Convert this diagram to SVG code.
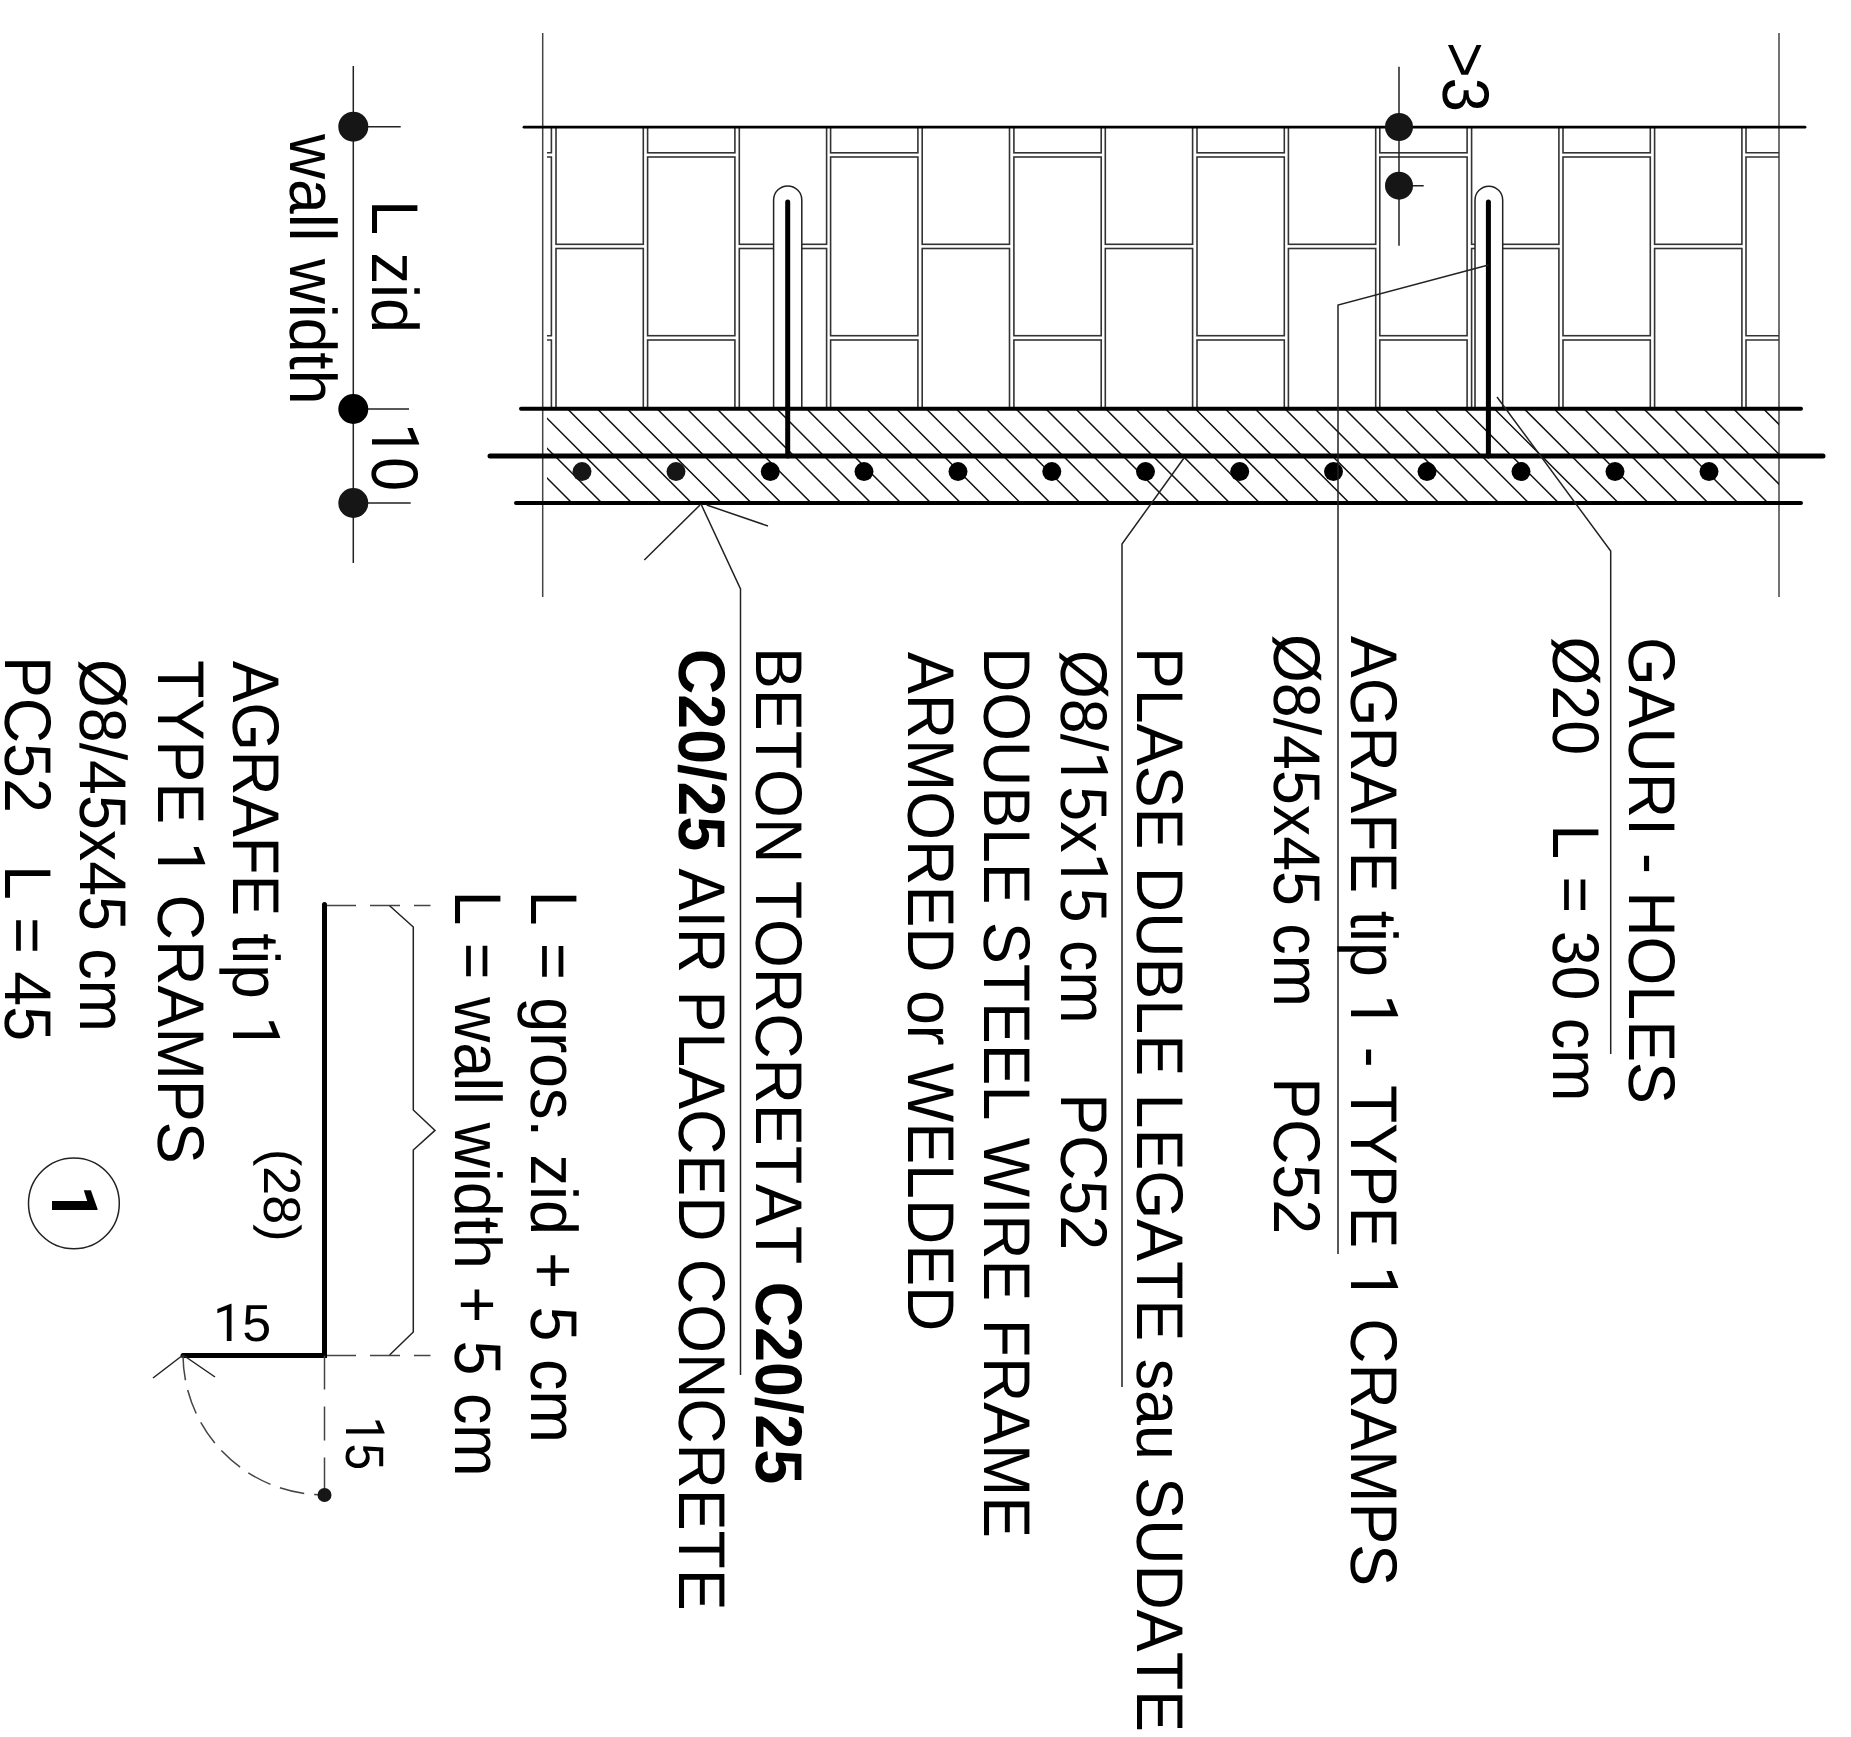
<svg xmlns="http://www.w3.org/2000/svg" width="1851" height="1737" viewBox="0 0 1851 1737">
<style>
text{font-family:"Liberation Sans",Arial,sans-serif;font-size:66px;fill:#000;font-kerning:none;text-rendering:geometricPrecision}
.s{font-size:52px}
.b{font-weight:bold}
.r{font-family:Roboto,"Liberation Sans",sans-serif}
.th{fill:none;stroke:#222;stroke-width:1.5}
.br{fill:none;stroke:#333;stroke-width:1.6}
.h{fill:none;stroke:#111;stroke-width:1.5}
.k{fill:none;stroke:#000;stroke-linecap:round}
.d{fill:#161616}
.dash{fill:none;stroke:#444;stroke-width:1.5}
</style>
<defs>
<g id="ba" class="br"><rect x="0" y="127" width="87.3" height="25.8"/><rect x="0" y="157" width="87.3" height="178.7"/><rect x="0" y="340" width="87.3" height="68.8"/></g>
<g id="bb" class="br"><rect x="0" y="127" width="87.3" height="117.3"/><rect x="0" y="248.5" width="87.3" height="160.3"/></g>
<clipPath id="c1"><rect x="547" y="409" width="1232" height="47"/></clipPath>
<clipPath id="c2"><rect x="547" y="456" width="1232" height="47"/></clipPath>
</defs>
<g id="axes" class="th" style="stroke:#444"><path d="M542.7 33V597M1779 33V597"/></g>
<g id="bricks">
<path class="br" d="M551.4 127V152.8H547M547 157H551.4V335.7H547M547 340H551.4V408.8"/>
<use href="#bb" x="556"/><use href="#ba" x="647.6"/><use href="#bb" x="739.3"/><use href="#ba" x="830.6"/><use href="#bb" x="922.2"/><use href="#ba" x="1013.9"/><use href="#bb" x="1105.3"/><use href="#ba" x="1197"/><use href="#bb" x="1288.4"/><use href="#ba" x="1379.8"/><use href="#bb" x="1471.6"/><use href="#ba" x="1563"/><use href="#bb" x="1654.6"/>
<path class="br" d="M1779 127H1746V152.8H1779M1779 157H1746V335.7H1779M1779 340H1746V408.8"/>
</g>
<g id="hatch">
<path class="h" clip-path="url(#c1)" d="M507.8 409l47 47m-17.1-47l47 47m-17.1-47l47 47m-17.1-47l47 47m-17.1-47l47 47m-17.1-47l47 47m-17.1-47l47 47m-17.1-47l47 47m-17.1-47l47 47m-17.1-47l47 47m-17.1-47l47 47m-17.1-47l47 47m-17.1-47l47 47m-17.1-47l47 47m-17.1-47l47 47m-17.1-47l47 47m-17.1-47l47 47m-17.1-47l47 47m-17.1-47l47 47m-17.1-47l47 47m-17.1-47l47 47m-17.1-47l47 47m-17.1-47l47 47m-17.1-47l47 47m-17.1-47l47 47m-17.1-47l47 47m-17.1-47l47 47m-17.1-47l47 47m-17.1-47l47 47m-17.1-47l47 47m-17.1-47l47 47m-17.1-47l47 47m-17.1-47l47 47m-17.1-47l47 47m-17.1-47l47 47m-17.1-47l47 47m-17.1-47l47 47m-17.1-47l47 47m-17.1-47l47 47m-17.1-47l47 47m-17.1-47l47 47m-17.1-47l47 47m-17.1-47l47 47m-17.1-47l47 47"/>
<path class="h" clip-path="url(#c2)" d="M525 456l47 47m-17.1-47l47 47m-17.1-47l47 47m-17.1-47l47 47m-17.1-47l47 47m-17.1-47l47 47m-17.1-47l47 47m-17.1-47l47 47m-17.1-47l47 47m-17.1-47l47 47m-17.1-47l47 47m-17.1-47l47 47m-17.1-47l47 47m-17.1-47l47 47m-17.1-47l47 47m-17.1-47l47 47m-17.1-47l47 47m-17.1-47l47 47m-17.1-47l47 47m-17.1-47l47 47m-17.1-47l47 47m-17.1-47l47 47m-17.1-47l47 47m-17.1-47l47 47m-17.1-47l47 47m-17.1-47l47 47m-17.1-47l47 47m-17.1-47l47 47m-17.1-47l47 47m-17.1-47l47 47m-17.1-47l47 47m-17.1-47l47 47m-17.1-47l47 47m-17.1-47l47 47m-17.1-47l47 47m-17.1-47l47 47m-17.1-47l47 47m-17.1-47l47 47m-17.1-47l47 47m-17.1-47l47 47m-17.1-47l47 47m-17.1-47l47 47m-17.1-47l47 47m-17.1-47l47 47"/>
</g>
<g id="anchors">
<path d="M773.6 408.8V200A14.1 14.1 0 0 1 801.8 200V408.8" fill="#fff" stroke="#222" stroke-width="1.5"/>
<path d="M1475 408.8V200A13.85 13.85 0 0 1 1502.7 200V408.8" fill="#fff" stroke="#222" stroke-width="1.5"/>
<path class="k" stroke-width="5" d="M787.7 202V456M1488.4 202V456"/>
</g>
<g id="slab" class="k">
<path stroke-width="2.8" d="M524 127.2H1805"/>
<path stroke-width="4" d="M521 408.8H1801M516 503H1801"/>
<path stroke-width="5" d="M490 456H1823"/>
</g>
<g id="bars" class="d">
<circle cx="582" cy="471.6" r="9.5"/><circle cx="676" cy="471.6" r="9.5"/>
<g fill="#000"><circle cx="770.3" cy="471.6" r="9.5"/><circle cx="864" cy="471.6" r="9.5"/><circle cx="958" cy="471.6" r="9.5"/><circle cx="1051.8" cy="471.6" r="9.5"/><circle cx="1145.5" cy="471.6" r="9.5"/><circle cx="1239.7" cy="471.6" r="9.5"/><circle cx="1333.5" cy="471.6" r="9.5"/><circle cx="1427" cy="471.6" r="9.5"/><circle cx="1521" cy="471.6" r="9.5"/><circle cx="1615" cy="471.6" r="9.5"/><circle cx="1709" cy="471.6" r="9.5"/></g>
</g>
<g id="connectors" class="th">
<path d="M701 504L740.5 589V1375M644.3 560L700 505M706.7 505L768 526"/>
<path d="M1184 458L1122 544V1387"/>
<path d="M1488.4 265L1338 305V1254"/>
<path d="M1497 397L1610.7 551V1054"/>
</g>
<g id="dim-3">
<path class="th" d="M1399 66.7V245.8M1399 185.7H1423.7"/>
<circle class="d" cx="1399" cy="127" r="14"/><circle class="d" cx="1399" cy="185.7" r="14"/>
<text transform="translate(1443 42) rotate(90) scale(.93,1)">&gt;3</text>
</g>
<g id="dim-wall">
<path class="th" d="M353.3 66V563M353.3 126.7H400.7M353.3 409H409M353.3 503H410.7"/>
<circle class="d" cx="353.3" cy="126.7" r="15"/><circle cx="353.3" cy="409" r="15"/><circle class="d" cx="353.3" cy="503" r="15"/>
<text transform="translate(371.7 200) rotate(90) scale(.955,1)">L zid</text>
<text transform="translate(371.7 423) rotate(90) scale(.92,1)"><tspan class="r">1</tspan>0</text>
<text transform="translate(290 134) rotate(90) scale(.945,1)">wall width</text>
</g>
<g id="labels">
<text transform="translate(1629 637) rotate(90) scale(.95,1)">GAURI - HOLES</text>
<text transform="translate(1553 636.5) rotate(90) scale(.95,1)" xml:space="preserve">Ø20   <tspan x="197.7">L = 30 cm</tspan></text>
<text transform="translate(1350.7 636) rotate(90) scale(.948,1)">AGRAFE tip <tspan class="r">1</tspan> - TYPE <tspan class="r">1</tspan> CRAMPS</text>
<text transform="translate(1274 634) rotate(90) scale(.95,1)" xml:space="preserve">Ø8/45x45 cm   <tspan x="466.5">PC52</tspan></text>
<text transform="translate(1137 647) rotate(90) scale(.951,1)">PLASE DUBLE LEGATE sau SUDATE</text>
<text transform="translate(1060.5 650) rotate(90) scale(.95,1)" xml:space="preserve">Ø8/<tspan class="r">1</tspan>5x<tspan class="r">1</tspan>5 cm   <tspan x="466.5">PC52</tspan></text>
<text transform="translate(984 647) rotate(90) scale(.949,1)">DOUBLE STEEL WIRE FRAME</text>
<text transform="translate(907.5 652) rotate(90) scale(.95,1)">ARMORED or WELDED</text>
<text transform="translate(755.7 647) rotate(90) scale(.951,1)">BETON TORCRETAT <tspan class="b">C20/25</tspan></text>
<text transform="translate(679 649) rotate(90) scale(.95,1)"><tspan class="b">C20/25</tspan> AIR PLACED CONCRETE</text>
<text transform="translate(530.8 890.5) rotate(90) scale(.953,1)">L = gros. zid + 5 cm</text>
<text transform="translate(455.4 890.5) rotate(90) scale(.951,1)">L = wall width + 5 cm</text>
<text transform="translate(233.4 661) rotate(90) scale(.94,1)">AGRAFE tip <tspan class="r">1</tspan></text>
<text transform="translate(157.7 660) rotate(90) scale(.953,1)">TYPE <tspan class="r">1</tspan> CRAMPS</text>
<text transform="translate(80.4 659) rotate(90) scale(.95,1)">Ø8/45x45 cm</text>
<text transform="translate(4.6 656) rotate(90) scale(.95,1)" xml:space="preserve">PC52   <tspan x="220">L = 45</tspan></text>
</g>
<g id="cramp">
<path class="dash" stroke-dasharray="30 14" d="M326 905.5H430.5M326 1355.4H430.5"/>
<path class="th" d="M389.6 905.8L413.3 927V1110L435 1130.4L413.3 1150V1332L389.6 1355"/>
<path class="k" stroke-width="5" d="M324.5 904.5V1355.4H183"/>
<path class="dash" stroke-dasharray="34 17" d="M324.5 1355.4V1495"/>
<path class="dash" stroke-dasharray="25 10" d="M183 1355.4A141.5 141 0 0 0 324.5 1495"/>
<path class="th" d="M183 1355L153 1378M183 1355L215 1377"/>
<circle class="d" cx="324.5" cy="1495" r="7"/>
<text class="s" transform="translate(264 1149) rotate(90)">(28)</text>
<text class="s" x="213" y="1341"><tspan class="r">1</tspan>5</text>
<text class="s" transform="translate(346 1416.5) rotate(90) scale(.92,1.04)"><tspan class="r">1</tspan>5</text>
</g>
<g id="tag">
<circle class="th" cx="73.9" cy="1203.4" r="45.4"/>
<text class="b r" style="font-size:64px" transform="translate(51.7 1185) rotate(90)">1</text>
</g>
</svg>
